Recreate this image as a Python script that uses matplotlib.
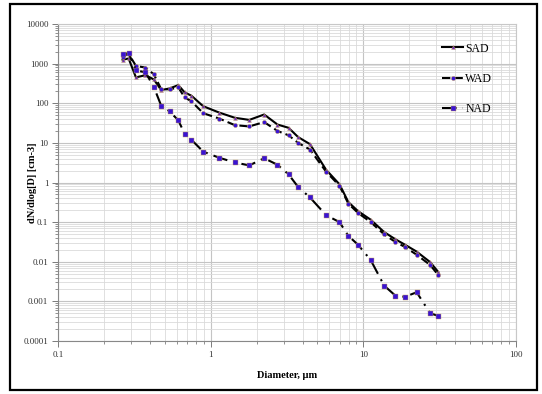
import matplotlib
matplotlib.use("Agg")
import matplotlib.pyplot as plt
from matplotlib.ticker import LogLocator, FixedLocator, NullFormatter
from matplotlib.patches import Rectangle

diameter = [0.265, 0.290, 0.324, 0.374, 0.424, 0.474, 0.539, 0.614, 0.675, 0.748,
            0.894, 1.14, 1.44, 1.79, 2.24, 2.74, 3.24, 3.74, 4.47, 5.70,
            6.98, 7.98, 9.22, 11.18, 13.69, 16.2, 18.71, 22.36, 27.39, 30.98]

sad = [1250, 1350, 450, 510, 400, 215, 237, 287, 188, 155,
       84, 58, 43, 38, 52, 29, 24, 14, 9.3, 2.1,
       0.9, 0.32, 0.19, 0.115, 0.056, 0.037, 0.027, 0.018, 0.0098, 0.0055]

wad = [1500, 1780, 875, 794, 541, 228, 224, 251, 141, 112,
       56, 41, 28, 26, 33.5, 20, 15.5, 10, 6.8, 1.88,
       0.825, 0.293, 0.171, 0.1, 0.049, 0.0316, 0.0237, 0.015, 0.0083, 0.0046]

nad = [1700, 1850, 680, 600, 260, 87, 62, 37, 17, 12,
       6.0, 4.2, 3.2, 2.7, 4.1, 2.8, 1.6, 0.77, 0.42, 0.15,
       0.1, 0.045, 0.027, 0.011, 0.0025, 0.0014, 0.0013, 0.0017, 0.0005, 0.00043]

x_ticks = [0.1, 1, 10, 100]
x_labels = ["0.1", "1", "10", "100"]
y_ticks = [1e-4, 1e-3, 1e-2, 1e-1, 1, 10, 100, 1000, 10000]
y_labels = ["0.0001", "0.001", "0.01", "0.1", "1", "10", "100", "1000", "10000"]

serif = ["Liberation Serif", "DejaVu Serif"]

fig = plt.figure(figsize=(5.42, 3.94), dpi=100)
ax = fig.add_axes([58/542, 1-341/394, (516-58)/542, (341-24)/394])

mk_fill = "#3a14d2"
mk_edge = "#c9a35a"

ax.plot(diameter, sad, color="black", lw=1.5, ls="-", marker="^", ms=2.8,
        mfc="#6a2ab8", mec=mk_edge, mew=0.3, label="SAD", zorder=3)
ax.plot(diameter, wad, color="black", lw=1.5, ls=(0, (4, 2)), marker="o", ms=3.0,
        mfc=mk_fill, mec=mk_edge, mew=0.3, label="WAD", zorder=4)
ax.plot(diameter, nad, color="black", lw=1.5, ls=(0, (7, 3, 1, 3)), marker="s", ms=3.6,
        mfc=mk_fill, mec=mk_edge, mew=0.3, label="NAD", zorder=5)

ax.set_xscale("log")
ax.set_yscale("log")
ax.set_xlim(0.1, 100)
ax.set_ylim(1e-4, 1e4)

ax.xaxis.set_major_locator(FixedLocator(x_ticks))
ax.set_xticklabels(x_labels, fontsize=6.5, family=serif, color="#333333")
ax.yaxis.set_major_locator(FixedLocator(y_ticks))
ax.set_yticklabels(y_labels, fontsize=6.5, family=serif, color="#333333")
ax.xaxis.set_minor_locator(LogLocator(base=10, subs=range(2, 10), numticks=20))
ax.yaxis.set_minor_locator(LogLocator(base=10, subs=range(2, 10), numticks=20))
ax.xaxis.set_minor_formatter(NullFormatter())
ax.yaxis.set_minor_formatter(NullFormatter())

ax.grid(which="major", color="#c4c4c4", lw=0.8)
ax.grid(which="minor", color="#dadada", lw=0.6)
ax.set_axisbelow(True)

ax.tick_params(which="major", length=4, width=0.6, color="#666666", pad=3)
ax.tick_params(which="minor", length=2, width=0.5, color="#666666")
ax.tick_params(axis="x", which="both", direction="out")
for s in ["top", "right"]:
    ax.spines[s].set_color("#c8c8c8")
for s in ["left", "bottom"]:
    ax.spines[s].set_color("#888888")
    ax.spines[s].set_linewidth(0.8)

ax.set_xlabel("Diameter, µm", fontsize=7.5, family=serif, fontweight="bold", labelpad=9)
ax.set_ylabel("dN/dlog[D] [cm-3]", fontsize=7.5, family=serif, fontweight="bold")
ax.yaxis.set_label_coords(-0.045, 0.5)

leg = ax.legend(loc="upper left", bbox_to_anchor=(0.826, 0.96), frameon=False,
                prop={"family": serif, "size": 8.5}, labelspacing=1.55,
                handlelength=1.8, handletextpad=0.15, borderpad=0)

fig.patches.append(Rectangle((10/542, 4/394), 527/542, 386/394, transform=fig.transFigure,
                             fill=False, edgecolor="black", lw=1.6))

fig.savefig("out.png", dpi=100)
